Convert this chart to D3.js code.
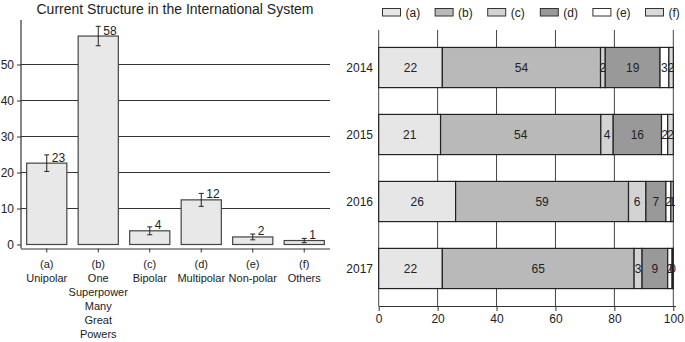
<!DOCTYPE html>
<html>
<head>
<meta charset="utf-8">
<script src="https://cdn.jsdelivr.net/npm/d3@7"></script>
<style>
body { margin: 0; background: #fff; }
svg { font-family: "Liberation Sans", Arial, sans-serif; }
</style>
</head>
<body>
<svg width="685" height="342"></svg>
<script>
// left chart: structure of the international system
var structKeys = ["(a)", "(b)", "(c)", "(d)", "(e)", "(f)"];
var structNames = [["Unipolar"], ["One", "Superpower", "Many", "Great", "Powers"], ["Bipolar"], ["Multipolar"], ["Non-polar"], ["Others"]];
var structValues = [22.6, 57.9, 3.8, 12.4, 2.1, 1.1];
var structErr = [2.3, 2.7, 1.1, 1.8, 0.8, 0.6];
var structLabels = ["23", "58", "4", "12", "2", "1"];
var yTicks = [0, 10, 20, 30, 40, 50];

// right chart: stacked shares per year
var years = ["2014", "2015", "2016", "2017"];
var seriesA = [21.6, 21.0, 26.1, 21.6];
var seriesB = [53.7, 54.4, 58.7, 65.1];
var seriesC = [1.6, 4.2, 5.9, 2.7];
var seriesD = [18.6, 16.4, 6.8, 8.7];
var seriesE = [3.0, 2.1, 1.7, 1.5];
var seriesF = [1.5, 1.9, 0.8, 0.4];
var xTicks = [0, 20, 40, 60, 80, 100];
var segColors = ["#e6e6e6", "#b9b9b9", "#d3d3d3", "#999999", "#ffffff", "#d9d9d9"];

var svg = d3.select("svg");

// ---- left bar chart ----
var x1 = d3.scaleBand().domain(structKeys).range([21, 330]).paddingInner(0.22).paddingOuter(0.11);
var y1 = d3.scaleLinear().domain([0, 50]).range([244.5, 64.5]);

svg.append("text")
  .attr("x", 175).attr("y", 14)
  .attr("text-anchor", "middle")
  .attr("font-size", 14)
  .attr("fill", "#222")
  .text("Current Structure in the International System");

// grid lines
svg.append("g").selectAll("line")
  .data(yTicks.slice(1))
  .enter().append("line")
    .attr("x1", 21).attr("x2", 330)
    .attr("y1", function(d) { return y1(d); })
    .attr("y2", function(d) { return y1(d); })
    .attr("stroke", "#333").attr("stroke-width", 1);

var yAxis1 = svg.append("g")
  .attr("transform", "translate(21,0)")
  .call(d3.axisLeft(y1).tickValues(yTicks).tickSize(4).tickPadding(3));
yAxis1.select(".domain").remove();
yAxis1.selectAll("text").attr("font-size", 12).attr("fill", "#222").attr("font-family", "Liberation Sans, Arial, sans-serif");
yAxis1.selectAll("line").attr("stroke", "#333");
svg.append("line").attr("x1", 21).attr("x2", 21).attr("y1", 20).attr("y2", 248.5)
  .attr("stroke", "#333").attr("stroke-width", 1.2);

var bars = svg.append("g").selectAll("g")
  .data(structKeys)
  .enter().append("g");

bars.append("rect")
  .attr("x", function(d) { return x1(d); })
  .attr("width", x1.bandwidth())
  .attr("y", function(d, i) { return y1(structValues[i]); })
  .attr("height", function(d, i) { return y1(0) - y1(structValues[i]); })
  .attr("fill", "#e8e8e8")
  .attr("stroke", "#444").attr("stroke-width", 1.2);

// error bars
bars.each(function(d, i) {
  var g = d3.select(this);
  var cx = x1(d) + x1.bandwidth() / 2;
  var top = y1(structValues[i] + structErr[i]);
  var bot = y1(structValues[i] - structErr[i]);
  g.append("line").attr("x1", cx).attr("x2", cx).attr("y1", top).attr("y2", bot).attr("stroke", "#222");
  g.append("line").attr("x1", cx - 2.5).attr("x2", cx + 2.5).attr("y1", top).attr("y2", top).attr("stroke", "#222");
  g.append("line").attr("x1", cx - 2.5).attr("x2", cx + 2.5).attr("y1", bot).attr("y2", bot).attr("stroke", "#222");
  g.append("text")
    .attr("x", cx + 5).attr("y", y1(structValues[i]) - 1.5)
    .attr("font-size", 12).attr("fill", "#222")
    .text(structLabels[i]);
});

var xAxis1 = svg.append("g")
  .attr("transform", "translate(0,248.5)")
  .call(d3.axisBottom(x1).tickSize(4).tickFormat(""));
xAxis1.select(".domain").attr("stroke", "#333").attr("stroke-width", 1.2)
  .attr("d", "M21,0.5H330");
xAxis1.selectAll("line").attr("stroke", "#333");

var xl = svg.append("g").selectAll("text")
  .data(structKeys)
  .enter().append("text")
    .attr("text-anchor", "middle")
    .attr("font-size", 11)
    .attr("fill", "#222")
    .attr("x", function(d) { return x1(d) + x1.bandwidth() / 2; })
    .attr("y", 268);
xl.append("tspan").attr("x", function(d) { return x1(d) + x1.bandwidth() / 2; }).text(function(d) { return d; });
xl.each(function(d, i) {
  var t = d3.select(this);
  structNames[i].forEach(function(s) {
    t.append("tspan").attr("x", x1(d) + x1.bandwidth() / 2).attr("dy", 14).text(s);
  });
});

// ---- right stacked bar chart ----
var segKeys = structKeys;
var table = years.map(function(yr, i) {
  return { year: yr, "(a)": seriesA[i], "(b)": seriesB[i], "(c)": seriesC[i],
           "(d)": seriesD[i], "(e)": seriesE[i], "(f)": seriesF[i] };
});
var stack = d3.stack().keys(segKeys)(table);

var x2 = d3.scaleLinear().domain([0, 100]).range([378.7, 673.3]);
var y2 = d3.scaleBand().domain(years).range([30, 306]).paddingInner(0.4).paddingOuter(0.26);
var color2 = d3.scaleOrdinal().domain(segKeys).range(segColors);

svg.append("g").selectAll("line")
  .data(xTicks)
  .enter().append("line")
    .attr("x1", function(d) { return x2(d); })
    .attr("x2", function(d) { return x2(d); })
    .attr("y1", 30).attr("y2", 306)
    .attr("stroke", "#444").attr("stroke-width", 1);

var xAxis2 = svg.append("g")
  .attr("transform", "translate(0,306)")
  .call(d3.axisBottom(x2).tickValues(xTicks).tickSize(5).tickPadding(3));
xAxis2.select(".domain").attr("stroke", "#333").attr("d", "M378.7,0.5H676");
xAxis2.selectAll("line").attr("stroke", "#333");
xAxis2.selectAll("text").attr("font-size", 12).attr("fill", "#222").attr("font-family", "Liberation Sans, Arial, sans-serif");

svg.append("g").selectAll("text")
  .data(years)
  .enter().append("text")
    .attr("x", 373)
    .attr("y", function(d) { return y2(d) + y2.bandwidth() / 2 + 4.5; })
    .attr("text-anchor", "end")
    .attr("font-size", 12)
    .attr("fill", "#222")
    .text(function(d) { return d; });

var layers = svg.append("g").selectAll("g")
  .data(stack)
  .enter().append("g")
    .attr("fill", function(d) { return color2(d.key); });

layers.selectAll("rect")
  .data(function(d) { return d; })
  .enter().append("rect")
    .attr("x", function(d) { return x2(d[0]); })
    .attr("width", function(d) { return x2(d[1]) - x2(d[0]); })
    .attr("y", function(d) { return y2(d.data.year); })
    .attr("height", y2.bandwidth())
    .attr("stroke", "#222").attr("stroke-width", 1.2);

layers.selectAll("text")
  .data(function(d) { return d; })
  .enter().append("text")
    .attr("x", function(d) { return (x2(d[0]) + x2(d[1])) / 2; })
    .attr("y", function(d) { return y2(d.data.year) + y2.bandwidth() / 2 + 4.5; })
    .attr("text-anchor", "middle")
    .attr("font-size", 12)
    .attr("fill", "#222")
    .text(function(d) { return Math.round(d[1] - d[0]); });

// legend
var legend = svg.append("g").selectAll("g")
  .data(segKeys)
  .enter().append("g")
    .attr("transform", function(d, i) { return "translate(" + (382.5 + i * 52.6) + ",8.5)"; });
legend.append("rect")
  .attr("width", 18).attr("height", 7.5)
  .attr("fill", function(d) { return color2(d); })
  .attr("stroke", "#333").attr("stroke-width", 1);
legend.append("text")
  .attr("x", 23).attr("y", 8.5)
  .attr("font-size", 12).attr("fill", "#222")
  .text(function(d) { return d; });
</script>
</body>
</html>
